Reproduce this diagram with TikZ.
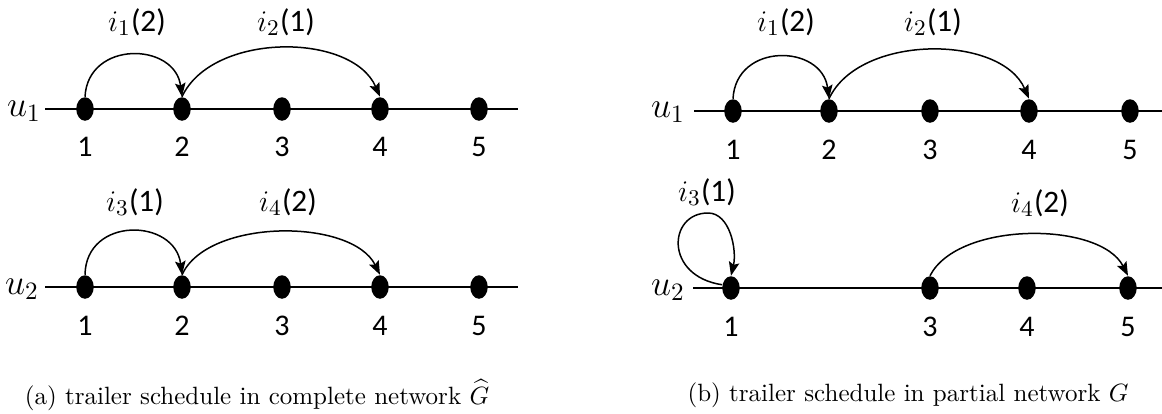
\documentclass[tikz,border=0pt]{standalone}
\usepackage{fontspec}
\newfontfamily\calfont{Carlito}
\usetikzlibrary{positioning}
\usetikzlibrary{shapes.geometric}
\usetikzlibrary{arrows.meta}

\tikzset{
  dot/.style={ellipse, fill=black, minimum width=7pt, minimum height=9.4pt, inner sep=0pt},
  num/.style={font=\calfont\fontsize{12}{14}\selectfont, inner sep=0pt},
  rowlbl/.style={font=\Large, inner sep=0pt},
  joblbl/.style={font=\calfont\fontsize{12.5}{14}\selectfont, inner sep=0pt},
  track/.style={line width=0.8pt},
  move/.style={line width=0.6pt, -{Stealth[length=5.5pt,width=4.2pt,inset=1pt]}},
}

\begin{document}
\begin{tikzpicture}[x=0.4pt, y=-0.4pt]
    \useasboundingbox (0,0) rectangle (1162,414);

    % (a) complete network, trailer u1
    \coordinate (sa1) at (45,109);
    \coordinate (ea1) at (518,109);
    \draw[track] (sa1) -- (ea1);
    \node[rowlbl] (ua1) at (24,111) {$u_1$};
    \foreach \n/\x in {1/85, 2/182, 3/282, 4/380, 5/479} {
        \node[dot] (a1\n) at (\x,109) {};
        \node[num] (ta1\n) at (\x,147) {\n};
    }
    \draw[move] (a11.north) .. controls (88,40) and (175,42) .. (a12.north);
    \draw[move] (a12.north) .. controls (212,32) and (352,32) .. (a14.north);
    \node[joblbl] (ja1) at (137,22) {$i_1$(2)};
    \node[joblbl] (ja2) at (286,22) {$i_2$(1)};

    % (a) complete network, trailer u2
    \coordinate (sa2) at (45,287);
    \coordinate (ea2) at (518,287);
    \draw[track] (sa2) -- (ea2);
    \node[rowlbl] (ua2) at (22,289) {$u_2$};
    \foreach \n/\x in {1/85, 2/182, 3/282, 4/380, 5/479} {
        \node[dot] (a2\n) at (\x,287) {};
        \node[num] (ta2\n) at (\x,326) {\n};
    }
    \draw[move] (a21.north) .. controls (86,216) and (175,218) .. (a22.north);
    \draw[move] (a22.north) .. controls (208,218) and (352,218) .. (a24.north);
    \node[joblbl] (ja3) at (135,202) {$i_3$(1)};
    \node[joblbl] (ja4) at (288,202) {$i_4$(2)};

    % (b) partial network, trailer u1
    \coordinate (sb1) at (694,111);
    \coordinate (eb1) at (1162,111);
    \draw[track] (sb1) -- (eb1);
    \node[rowlbl] (ub1) at (668,112) {$u_1$};
    \foreach \n/\x in {1/733, 2/829, 3/930, 4/1029, 5/1130} {
        \node[dot] (b1\n) at (\x,111) {};
        \node[num] (tb1\n) at (\x,150) {\n};
    }
    \draw[move] (b11.north) .. controls (736,42) and (822,44) .. (b12.north);
    \draw[move] (b12.north) .. controls (859,34) and (1001,34) .. (b14.north);
    \node[joblbl] (jb1) at (786,22) {$i_1$(2)};
    \node[joblbl] (jb2) at (933,22) {$i_2$(1)};

    % (b) partial network, trailer u2
    \coordinate (sb2) at (693,288);
    \coordinate (eb2) at (1162,288);
    \draw[track] (sb2) -- (eb2);
    \node[rowlbl] (ub2) at (668,290) {$u_2$};
    \foreach \n/\x in {1/731, 3/930, 4/1027, 5/1128} {
        \node[dot] (b2\n) at (\x,288) {};
        \node[num] (tb2\n) at (\x,327) {\n};
    }
    \draw[move] (b21.160) .. controls (664,276) and (668,213) .. (708,213)
        .. controls (730,213) and (737,250) .. (b21.north);
    \draw[move] (b23.north) .. controls (958,221) and (1100,221) .. (b25.north);
    \node[joblbl] (jb3) at (707,192) {$i_3$(1)};
    \node[joblbl] (jb4) at (1040,203) {$i_4$(2)};

    % captions
    \node (capa) at (257,395) {(a) trailer schedule in complete network $\widehat{G}$};
    \node (capb) at (908,395) {(b) trailer schedule in partial network $G$};
\end{tikzpicture}
\end{document}
